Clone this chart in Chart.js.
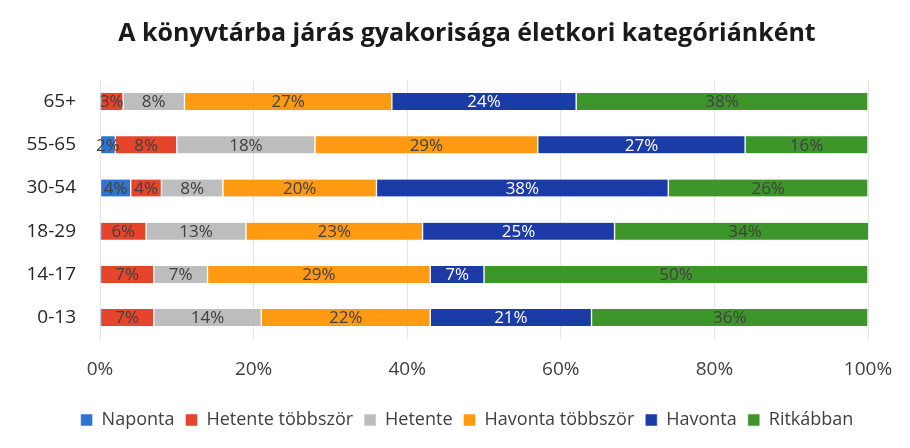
<!DOCTYPE html>
<html>
<head>
<meta charset="utf-8">
<script src="https://cdn.jsdelivr.net/npm/chart.js@4"></script>
<style>
  html, body { margin: 0; padding: 0; background: #ffffff; }
  #wrap { width: 910px; height: 448px; }
</style>
</head>
<body>
<div id="wrap"><canvas id="chart" width="910" height="448"></canvas></div>
<script>
// age groups, top to bottom
const categories = ['65+', '55-65', '30-54', '18-29', '14-17', '0-13'];

// share of each answer per age group (%)
const naponta = [0, 2, 4, 0, 0, 0];
const hetenteTobbszor = [3, 8, 4, 6, 7, 7];
const hetente = [8, 18, 8, 13, 7, 14];
const havontaTobbszor = [27, 29, 20, 23, 29, 22];
const havonta = [24, 27, 38, 25, 7, 21];
const ritkabban = [38, 16, 26, 34, 50, 36];

const xTicks = [0, 20, 40, 60, 80, 100];

const font = "'Open Sans', 'Noto Sans', sans-serif";
const tickSize = 19;

// widest category label, so the mirrored labels can be right-aligned
const canvas = document.getElementById('chart');
const mctx = canvas.getContext('2d');
mctx.font = tickSize + 'px ' + font;
let widest = 0;
for (let i = 0; i < categories.length; i++) {
    widest = Math.max(widest, mctx.measureText(categories[i]).width);
}

function series(label, data, color, textColor) {
    return {
        label: label,
        data: data,
        backgroundColor: color,
        borderColor: '#ffffff',
        borderWidth: { left: 1, right: 1, top: 0, bottom: 0 },
        borderSkipped: false,
        barThickness: 17,
        textColor: textColor
    };
}

// draws the % labels in the middle of each segment
const segmentLabels = {
    id: 'segmentLabels',
    afterDatasetsDraw(chart) {
        const ctx = chart.ctx;
        ctx.save();
        ctx.font = '17px ' + font;
        ctx.textAlign = 'center';
        ctx.textBaseline = 'middle';
        chart.data.datasets.forEach((ds, i) => {
            const meta = chart.getDatasetMeta(i);
            meta.data.forEach((bar, j) => {
                const v = ds.data[j];
                if (!v) return;
                const cx = (bar.x + bar.base) / 2;
                ctx.fillStyle = ds.textColor;
                ctx.fillText(v + '%', cx, bar.y + 1);
            });
        });
        ctx.restore();
    }
};

new Chart(canvas, {
    type: 'bar',
    data: {
        labels: categories,
        datasets: [
            series('Naponta', naponta, '#2f74d0', '#404040'),
            series('Hetente többször', hetenteTobbszor, '#e5452b', '#404040'),
            series('Hetente', hetente, '#bdbdbd', '#404040'),
            series('Havonta többször', havontaTobbszor, '#ff9a12', '#404040'),
            series('Havonta', havonta, '#1b3ba6', '#ffffff'),
            series('Ritkábban', ritkabban, '#3d9629', '#404040')
        ]
    },
    options: {
        indexAxis: 'y',
        responsive: false,
        animation: false,
        layout: { padding: { left: 66, right: 42, top: 6, bottom: 9 } },
        scales: {
            x: {
                stacked: true,
                min: 0,
                max: 100,
                afterBuildTicks: (axis) => { axis.ticks = xTicks.map(v => ({ value: v })); },
                grid: { color: '#e6e6e6', drawTicks: false },
                border: { display: false },
                ticks: {
                    color: '#404040',
                    font: { family: font, size: tickSize, lineHeight: 1.62 },
                    padding: 15,
                    callback: (v) => v + '%'
                }
            },
            y: {
                stacked: true,
                afterFit: (axis) => { axis.width = 34; },
                grid: { display: false, drawTicks: false },
                border: { display: false },
                ticks: {
                    mirror: true,
                    crossAlign: 'far',
                    padding: -24 - widest,
                    color: '#262626',
                    font: { family: font, size: tickSize }
                }
            }
        },
        plugins: {
            title: {
                display: true,
                text: 'A könyvtárba járás gyakorisága életkori kategóriánként',
                color: '#1a1a1a',
                font: { family: font, size: 25, weight: 'bold' },
                padding: { top: 13, bottom: 31 }
            },
            legend: {
                position: 'bottom',
                labels: {
                    color: '#404040',
                    font: { family: font, size: 18 },
                    boxWidth: 12,
                    boxHeight: 12,
                    padding: 11
                }
            },
            tooltip: { enabled: false }
        }
    },
    plugins: [segmentLabels]
});
</script>
</body>
</html>
